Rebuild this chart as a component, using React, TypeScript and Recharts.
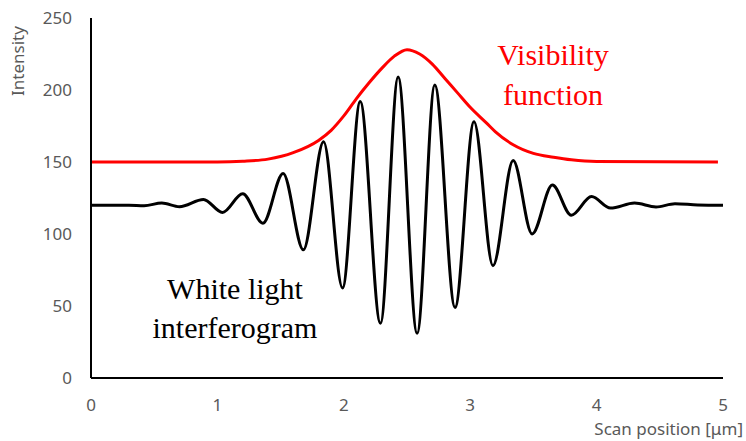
import React from 'react';
import { LineChart, Line, XAxis, YAxis } from 'recharts';

// values (x in µm, intensity in counts)
const xTicks = [0, 1, 2, 3, 4, 5];
const yTicks = [0, 50, 100, 150, 200, 250];

const fringeX = [
  0, 0.3, 0.42, 0.56, 0.7, 0.89, 1.04, 1.2, 1.36, 1.52, 1.68, 1.84, 1.99, 2.13, 2.29, 2.43,
  2.58, 2.72, 2.88, 3.03, 3.18, 3.34, 3.49, 3.65, 3.8, 3.96, 4.11, 4.3, 4.47, 4.62, 4.8, 5,
];
const fringeY = [
  120, 120, 119.6, 121.5, 119, 124, 115, 128, 107.5, 142, 89, 164, 62.5, 192, 38, 209,
  31, 203.5, 49, 178, 78, 151, 100, 134, 113, 126, 118, 121.5, 118.8, 121, 120.2, 120,
];

const visX = [
  0, 1, 1.2, 1.4, 1.6, 1.8, 1.9, 2, 2.1, 2.2, 2.3, 2.4, 2.5, 2.6, 2.7, 2.8, 2.9, 3, 3.13, 3.2,
  3.34, 3.5, 3.66, 3.8, 4, 4.96,
];
const visY = [
  150, 150, 150.5, 152, 156.5, 165, 172, 182, 194, 205, 215, 223.5, 228, 225, 218, 208, 198, 188,
  177, 171, 162, 156, 153.3, 151.5, 150.3, 150,
];

const fringe = fringeX.map((x, i) => ({ x, v: fringeY[i] }));
const visibility = visX.map((x, i) => ({ x, v: visY[i] }));

const tickStyle = { fill: '#595959', fontSize: 17, fontFamily: 'Noto Sans' };

export default function App() {
  return (
    <div style={{ position: 'absolute', left: 0, top: 0, width: 746, height: 441, background: '#fff' }}>
      <LineChart width={746} height={441} margin={{ top: 18, right: 23, left: 0, bottom: 33 }}>
        <XAxis
          type="number"
          dataKey="x"
          domain={[0, 5]}
          ticks={xTicks}
          height={30}
          tickSize={0}
          tickMargin={21}
          axisLine={{ stroke: '#000', strokeWidth: 2 }}
          tick={tickStyle}
          allowDataOverflow
        />
        <YAxis
          type="number"
          domain={[0, 250]}
          ticks={yTicks}
          width={91}
          tickSize={0}
          tickMargin={19}
          axisLine={{ stroke: '#000', strokeWidth: 2 }}
          tick={tickStyle}
        />
        <Line
          data={visibility}
          dataKey="v"
          type="monotone"
          stroke="#ff0000"
          strokeWidth={3}
          dot={false}
          isAnimationActive={false}
        />
        <Line
          data={fringe}
          dataKey="v"
          type="monotone"
          stroke="#000"
          strokeWidth={3}
          dot={false}
          isAnimationActive={false}
        />
      </LineChart>
      <svg
        width={746}
        height={441}
        style={{ position: 'absolute', left: 0, top: 0, pointerEvents: 'none' }}
      >
        <text
          transform="translate(24,61) rotate(-90)"
          textAnchor="middle"
          fill="#595959"
          fontSize={17}
          fontFamily="Noto Sans"
        >
          Intensity
        </text>
        <text x={743} y={435} textAnchor="end" fill="#595959" fontSize={17} fontFamily="Noto Sans">
          Scan position [μm]
        </text>
        <g fontFamily="Liberation Serif" fontSize={30} textAnchor="middle">
          <text x={553} y={65} fill="#ff0000">Visibility</text>
          <text x={553} y={105} fill="#ff0000">function</text>
          <text x={235} y={299} fill="#000">White light</text>
          <text x={235} y={338} fill="#000">interferogram</text>
        </g>
      </svg>
    </div>
  );
}
